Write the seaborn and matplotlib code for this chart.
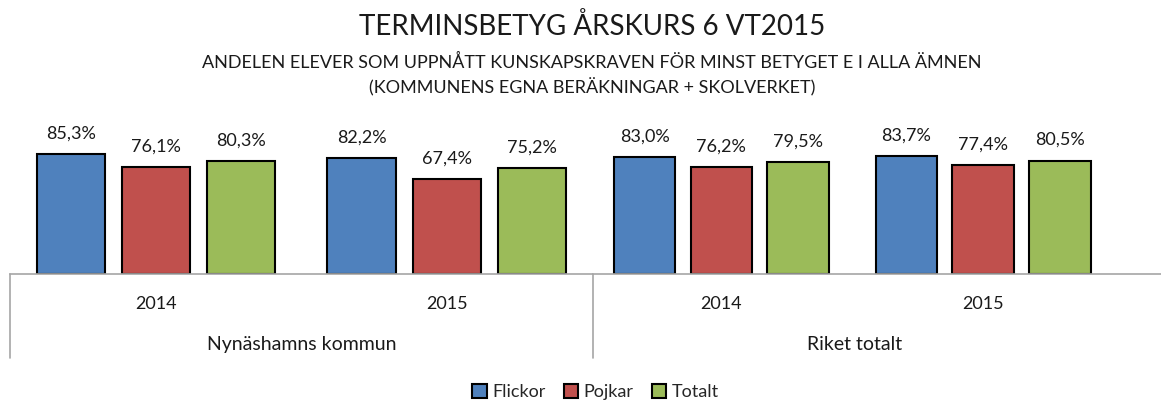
import numpy as np
import pandas as pd
import matplotlib
matplotlib.use('Agg')
import matplotlib.pyplot as plt
import seaborn as sns
from matplotlib.patches import Patch

# data
regions = ['Nynäshamns kommun', 'Riket totalt']
years = ['2014', '2015']
groups = ['Flickor', 'Pojkar', 'Totalt']
nynashamn = {'2014': [85.3, 76.1, 80.3], '2015': [82.2, 67.4, 75.2]}
riket = {'2014': [83.0, 76.2, 79.5], '2015': [83.7, 77.4, 80.5]}
colors = ['#4F81BD', '#C0504D', '#9BBB59']

sns.set_style('white')
plt.rcParams['font.family'] = ['Lato', 'DejaVu Sans']

fig = plt.figure(figsize=(11.61, 4.01), dpi=100)
ax_l = fig.add_axes([0.0086, 0.317, 0.5022, 0.351])
ax_r = fig.add_axes([0.5108, 0.317, 0.4892, 0.351])

pal = dict(zip(groups, colors))
for ax, region, data, xlim in [(ax_l, regions[0], nynashamn, (-0.502, 1.503)),
                               (ax_r, regions[1], riket, (-0.49, 1.68))]:
    rows = [(y, g, v) for y in years for g, v in zip(groups, data[y])]
    df = pd.DataFrame(rows, columns=['year', 'group', 'value'])
    sns.barplot(data=df, x='year', y='value', hue='group', palette=pal,
                width=0.88, gap=0.2, edgecolor='black', linewidth=1.5,
                ax=ax, legend=False, saturation=1)
    for c in ax.containers:
        ax.bar_label(c, labels=[f'{v:.1f}%'.replace('.', ',') for v in c.datavalues],
                     padding=9, fontsize=13, color='#1a1a1a')
    ax.set_xlim(*xlim)
    ax.set_ylim(0, 100)
    ax.set_xlabel('')
    ax.set_ylabel('')
    ax.set_yticks([])
    for s in ['top', 'right', 'left']:
        ax.spines[s].set_visible(False)
    ax.spines['bottom'].set_color('#a6a6a6')
    ax.spines['bottom'].set_linewidth(1.2)
    ax.tick_params(axis='x', length=0, pad=16, labelsize=13, labelcolor='#1a1a1a')
    ax.text(0.5 if ax is ax_l else 0.46, -0.505, region, transform=ax.transAxes,
            ha='center', va='center', fontsize=14, color='#1a1a1a')
    ax.plot([0, 0], [0, -0.595], transform=ax.transAxes, color='#a6a6a6',
            lw=1.2, clip_on=False)

fig.text(0.51, 0.912, 'TERMINSBETYG ÅRSKURS 6 VT2015', ha='center', va='baseline',
         fontsize=20, color='#1a1a1a')
fig.text(0.51, 0.83, 'ANDELEN ELEVER SOM UPPNÅTT KUNSKAPSKRAVEN FÖR MINST BETYGET E I ALLA ÄMNEN',
         ha='center', va='baseline', fontsize=13, color='#1a1a1a')
fig.text(0.51, 0.766, '(KOMMUNENS EGNA BERÄKNINGAR + SKOLVERKET)',
         ha='center', va='baseline', fontsize=13, color='#1a1a1a')

handles = [Patch(facecolor=c, edgecolor='black', linewidth=1.5, label=g)
           for g, c in zip(groups, colors)]
fig.legend(handles=handles, loc='center', bbox_to_anchor=(0.513, 0.022), ncol=3,
           frameon=False, fontsize=13, handlelength=0.8, handleheight=0.8,
           handletextpad=0.3, columnspacing=1.0)

fig.savefig('out.png', dpi=100)
